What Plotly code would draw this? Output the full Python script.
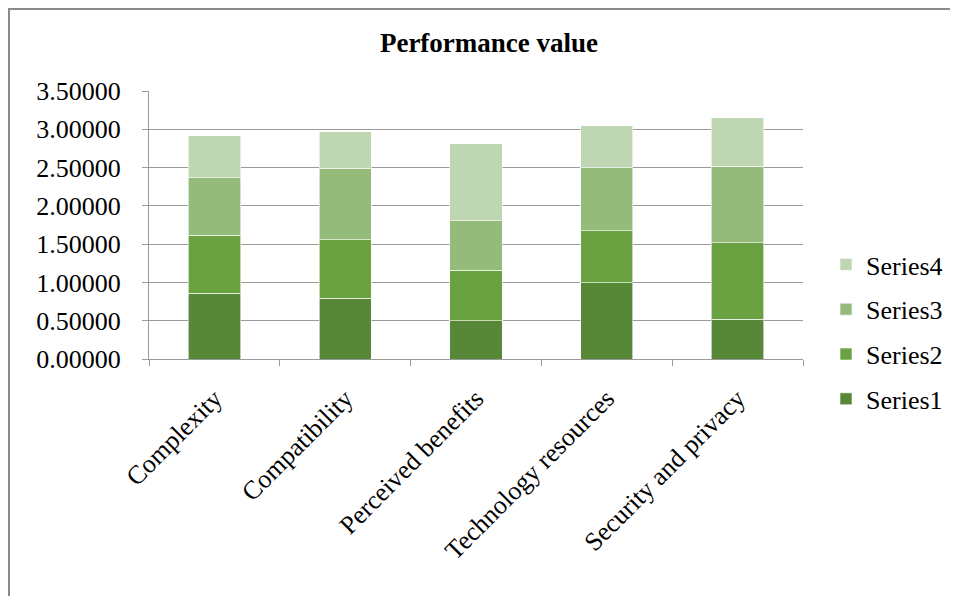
import plotly.graph_objects as go

categories = ["Complexity", "Compatibility", "Perceived benefits", "Technology resources", "Security and privacy"]
series1 = [0.857, 0.791, 0.500, 0.996, 0.522]
series2 = [0.756, 0.766, 0.657, 0.678, 0.995]
series3 = [0.757, 0.934, 0.647, 0.822, 1.000]
series4 = [0.547, 0.479, 1.005, 0.552, 0.635]
series_names = ["Series1", "Series2", "Series3", "Series4"]
colors = ["#578837", "#6aa242", "#94bb7a", "#bfd6b3"]

OFF = 8  # page body margin
W, H = 958 - OFF, 596 - OFF
# plot area in screen coords, converted to figure coords
L, R, T, B = 149 - OFF, 803 - OFF, 91 - OFF, 359 - OFF
FONT = "Liberation Serif"
FS = 26

fig = go.Figure()
for i, (name, vals, col) in enumerate(zip(series_names, [series1, series2, series3, series4], colors)):
    fig.add_trace(go.Bar(
        x=categories, y=vals, name=name,
        marker=dict(color=col, line=dict(color="rgba(255,255,255,0.6)", width=1)),
        legendgroup=name, legendrank=10 - i,
    ))

pw, ph = R - L, B - T
def px(xs):
    return (xs - OFF - L) / pw
def py(ys):
    return (B - (ys - OFF)) / ph

fig.update_layout(
    width=W, height=H,
    margin=dict(l=L, r=W - R, t=T, b=H - B, autoexpand=False),
    barmode="stack", bargap=0.6,
    plot_bgcolor="white", paper_bgcolor="white",
    font=dict(family=FONT, color="black", size=FS),
    title=dict(text="<b>Performance value</b>", font=dict(family=FONT, size=27, color="black"),
               x=(489 - OFF) / W, xanchor="center", xref="container",
               y=1 - (43 - OFF) / H, yanchor="middle", yref="container"),
    legend=dict(x=px(826), xanchor="left", y=py(241), yanchor="top",
                traceorder="grouped", tracegroupgap=8,
                font=dict(family=FONT, size=FS, color="black"),
                bgcolor="rgba(0,0,0,0)"),
    showlegend=True,
)
fig.update_yaxes(range=[0, 3.5], dtick=0.5, tickformat=".5f",
                 showgrid=True, gridcolor="#9a9a9a", gridwidth=1,
                 showline=True, linecolor="#9a9a9a", linewidth=1,
                 ticks="outside", ticklen=6, tickcolor="#9a9a9a",
                 ticklabelstandoff=16, zeroline=False,
                 tickfont=dict(family=FONT, size=FS, color="black"))
fig.update_xaxes(showline=True, linecolor="#9a9a9a", linewidth=1,
                 ticks="outside", ticklen=6, tickcolor="#9a9a9a",
                 tickson="boundaries", tickangle=-45,
                 ticklabelstandoff=13,
                 tickfont=dict(family=FONT, size=FS, color="black"),
                 showgrid=False)

# outer chart border (left and top)
fig.add_shape(type="line", xref="paper", yref="paper",
              x0=px(9), x1=px(9), y0=py(H + OFF + 10), y1=py(OFF + 1),
              line=dict(color="#8a8a8a", width=2))
fig.add_shape(type="line", xref="paper", yref="paper",
              x0=px(8), x1=px(W + OFF + 10), y0=py(OFF + 1), y1=py(OFF + 1),
              line=dict(color="#8a8a8a", width=2))

fig.write_html("out.html")
